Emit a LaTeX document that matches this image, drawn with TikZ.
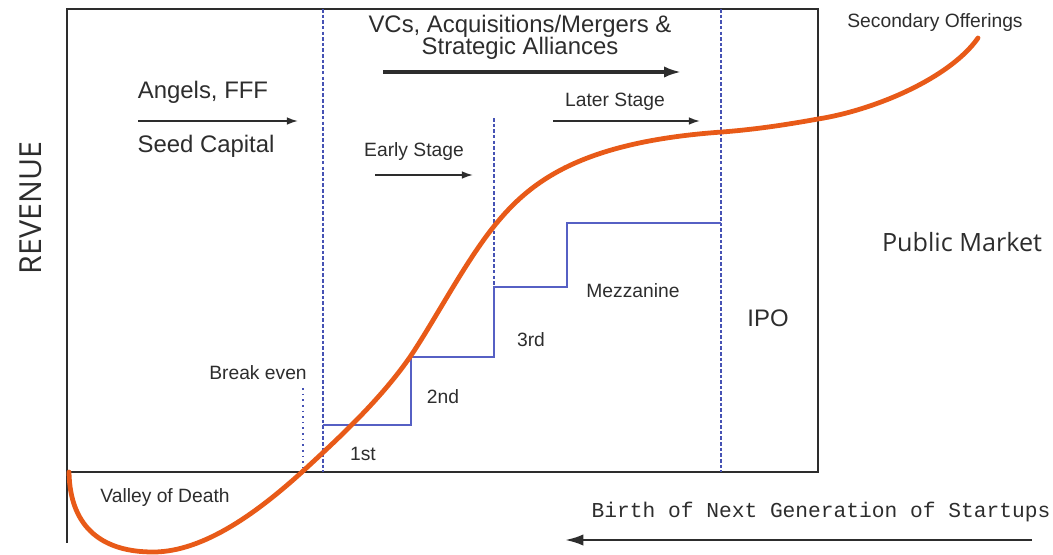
\documentclass[tikz,border=0pt]{standalone}
\usepackage{fontspec}
\setmainfont{Liberation Sans}
\newfontfamily\opensansfont{Open Sans}
\newfontfamily\typefont{Liberation Mono}
\usetikzlibrary{arrows.meta}
\definecolor{curveorange}{RGB}{232,90,24}
\definecolor{stepblue}{RGB}{86,96,196}
\definecolor{dashblue}{RGB}{70,82,180}
\definecolor{labelgray}{RGB}{45,45,45}

\begin{document}
\begin{tikzpicture}[>={Latex[length=8pt,width=5.5pt]},x=0.025cm,y=-0.025cm,
    small/.style={font=\fontsize{13.7}{16}\selectfont,text=labelgray,inner sep=0pt,anchor=base},
    big/.style={font=\fontsize{17}{20}\selectfont,text=labelgray,inner sep=0pt,anchor=base},
    stagearrow/.style={->,line width=1.2pt,labelgray},
    stageline/.style={dashblue,line width=0.9pt,dash pattern=on 2.5pt off 1.5pt}]
    \useasboundingbox (0,0) rectangle (1053,554);
            \draw [line width=1.4pt,labelgray] (67,9) rectangle (818,472);
            \draw [line width=1.4pt,labelgray] (67,472) -- (67,543);
            \foreach \x/\t/\b in {323/9/472,494/118/287,721/9/472}
            {
                \draw [stageline] (\x,\t) -- (\x,\b);
            }
            \draw [dashblue,line width=1.1pt,dash pattern=on 1.2pt off 2.8pt] (303,388) -- (303,472);
            \draw [stepblue,line width=1.1pt] (323,425) -| (411,357) -| (494,287) -| (567,223) -- (721,223);
            \draw [curveorange,line width=3.4pt,line cap=round] (69,472)
                .. controls (70,530) and (105,552) .. (153,552)
                .. controls (205,552) and (260,510) .. (302,472)
                .. controls (340,437) and (380,400) .. (410,357)
                .. controls (435,320) and (465,262) .. (495,225)
                .. controls (530,182) and (580,142) .. (722,132)
                .. controls (760,129) and (790,124) .. (818,119)
                .. controls (875,110) and (950,78) .. (978,38);
            \node [big] (angels) at (203,98) {Angels, FFF};
            \node [big] (seed) at (206,152) {Seed Capital};
            \node [big] (vcs) at (520,32) {VCs, Acquisitions/Mergers \&};
            \node [big] (alliances) at (520,54.5) {Strategic Alliances};
            \node [big] (ipo) at (768,326) {IPO};
            \foreach \x/\y/\t/\n in {615/106/Later Stage/later,414/156/Early Stage/early,
                935/27/Secondary Offerings/secondary,633/297/Mezzanine/mezzanine,531/346/3rd/third,
                443/403/2nd/second,363/460/1st/first,258/379/Break even/breakeven,165/502/Valley of Death/valley}
            {
                \node [small] (\n) at (\x,\y) {\t};
            }
            \node [font=\opensansfont\fontsize{17.9}{20}\selectfont,text=labelgray,inner sep=0pt,anchor=base]
                (public) at (962,251) {Public Market};
            \node [font=\opensansfont\fontsize{21.6}{24}\selectfont,text=labelgray,inner sep=0pt,rotate=90]
                (revenue) at (31,208) {REVENUE};
            \node [font=\typefont\fontsize{15.1}{18}\selectfont,text=labelgray,inner sep=0pt,anchor=base]
                (birth) at (821,517) {Birth of Next Generation of Startups};
            \coordinate (seedL) at (138,121);
            \coordinate (seedR) at (298,121);
            \coordinate (vcL) at (383,72);
            \coordinate (vcR) at (681,72);
            \coordinate (laterL) at (553,121);
            \coordinate (laterR) at (700,121);
            \coordinate (earlyL) at (375,175);
            \coordinate (earlyR) at (473,175);
            \coordinate (birthR) at (1032,540);
            \coordinate (birthL) at (565,540);
            \draw [stagearrow] (seedL) -- (seedR);
            \draw [stagearrow] (laterL) -- (laterR);
            \draw [stagearrow] (earlyL) -- (earlyR);
            \draw [-{Latex[length=12pt,width=8pt]},line width=2.2pt,labelgray] (vcL) -- (vcR);
            \draw [-{Latex[length=13pt,width=8pt]},line width=1.8pt,labelgray] (birthR) -- (birthL);
        \end{tikzpicture}
\end{document}
